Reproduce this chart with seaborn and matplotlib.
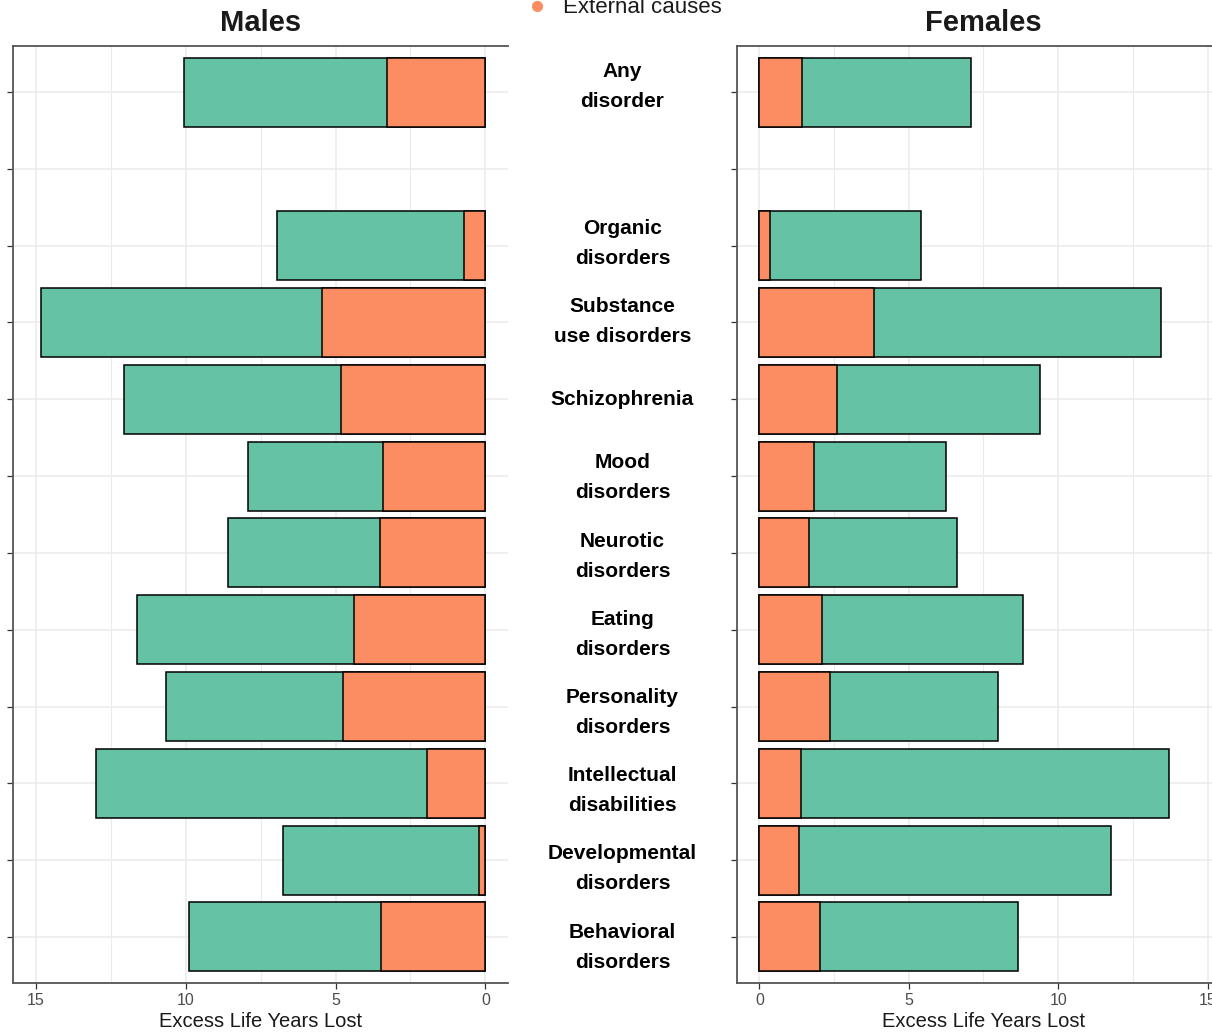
import matplotlib
matplotlib.use("Agg")
import matplotlib.pyplot as plt
from matplotlib.lines import Line2D
from matplotlib.ticker import MultipleLocator
import seaborn as sns
import pandas as pd

# ---------------- data ----------------
categories = ["Any disorder", "Organic disorders", "Substance use disorders",
              "Schizophrenia", "Mood disorders", "Neurotic disorders",
              "Eating disorders", "Personality disorders",
              "Intellectual disabilities", "Developmental disorders",
              "Behavioral disorders"]
display_labels = ["Any\ndisorder", "Organic\ndisorders", "Substance\nuse disorders",
                  "Schizophrenia", "Mood\ndisorders", "Neurotic\ndisorders",
                  "Eating\ndisorders", "Personality\ndisorders",
                  "Intellectual\ndisabilities", "Developmental\ndisorders",
                  "Behavioral\ndisorders"]
spacer = " "
order = [categories[0], spacer] + categories[1:]

male_external = [3.28, 0.72, 5.44, 4.82, 3.42, 3.51, 4.39, 4.76, 1.96, 0.20, 3.47]
male_total = [10.04, 6.95, 14.83, 12.04, 7.90, 8.59, 11.63, 10.65, 13.00, 6.74, 9.88]
female_external = [1.43, 0.35, 3.82, 2.61, 1.82, 1.67, 2.09, 2.36, 1.39, 1.33, 2.03]
female_total = [7.08, 5.42, 13.44, 9.40, 6.24, 6.61, 8.82, 7.98, 13.71, 11.78, 8.66]

panel_titles = ["Males", "Females"]
x_label = "Excess Life Years Lost"
legend_label = "External causes"
x_ticks = [0, 5, 10, 15]

green = "#66C2A5"
orange = "#FC8D62"

# ---------------- style ----------------
sns.set_style("white")
plt.rcParams["font.family"] = ["Liberation Sans", "DejaVu Sans"]

W, H = 1212, 1033
fig = plt.figure(figsize=(W / 100, H / 100), dpi=100)


def rect(x0, y0, x1, y1):
    return [x0 / W, 1 - y1 / H, (x1 - x0) / W, (y1 - y0) / H]


axL = fig.add_axes(rect(13, 46, 508, 983))
axR = fig.add_axes(rect(737, 46, 1230, 983))
axM = fig.add_axes(rect(508, 40, 737, 994))

dfs = {
    "Males": pd.DataFrame({"cat": categories, "total": male_total, "ext": male_external}),
    "Females": pd.DataFrame({"cat": categories, "total": female_total, "ext": female_external}),
}

n = len(order)
for ax, title in zip([axL, axR], panel_titles):
    df = dfs[title]
    sns.barplot(data=df, y="cat", x="total", order=order, color=green,
                saturation=1, width=0.9, edgecolor="black", linewidth=1.1,
                orient="h", ax=ax, zorder=2)
    sns.barplot(data=df, y="cat", x="ext", order=order, color=orange,
                saturation=1, width=0.9, edgecolor="black", linewidth=1.1,
                orient="h", ax=ax, zorder=3)
    ax.set_ylim(n - 1 + 0.6, -0.6)
    if title == "Males":
        ax.set_xlim(15.75, -0.75)
    else:
        ax.set_xlim(-0.75, 15.75)
    ax.set_xticks(x_ticks)
    ax.set_xticklabels([str(t) for t in x_ticks])
    ax.xaxis.set_minor_locator(MultipleLocator(2.5))
    ax.set_yticks(range(n))
    ax.set_yticklabels([])
    ax.set_axisbelow(True)
    ax.grid(True, which="major", axis="both", color="#EBEBEB", linewidth=1.1, zorder=0)
    ax.grid(True, which="minor", axis="x", color="#EBEBEB", linewidth=0.8, zorder=0)
    ax.tick_params(axis="x", which="major", length=4, width=0.9, color="#333333",
                   labelsize=11.5, labelcolor="#4D4D4D", pad=3, direction="out", bottom=True)
    ax.tick_params(axis="x", which="minor", length=0)
    ax.tick_params(axis="y", which="major", length=4, width=0.9, color="#333333",
                   direction="out", left=True)
    for side in ["left", "top", "bottom"]:
        ax.spines[side].set_visible(True)
        ax.spines[side].set_color("#555555")
        ax.spines[side].set_linewidth(1.3)
    ax.spines["right"].set_visible(False)
    ax.set_ylabel("")
    ax.set_xlabel(x_label, fontsize=14.5, color="#1A1A1A", labelpad=3)
    ax.set_title(title, fontsize=21, fontweight="bold", color="#1A1A1A", pad=11)

# middle labels
axM.set_ylim(n - 1 + 0.6, -0.6)
axM.set_xlim(0, 1)
axM.axis("off")
for cat, lab in zip(categories, display_labels):
    axM.text(0.5, order.index(cat), lab, ha="center", va="center",
             fontsize=15, fontweight="bold", color="black", linespacing=1.74)

# legend (cut at the top of the figure)
fig.add_artist(Line2D([537 / W], [1 - 6 / H], marker="o", markersize=7,
                      color=orange, linestyle="none", transform=fig.transFigure))
fig.text(563 / W, 1 - 13 / H, legend_label, ha="left", va="baseline",
         fontsize=16, color="#1A1A1A")

fig.savefig("out.png", dpi=100)
